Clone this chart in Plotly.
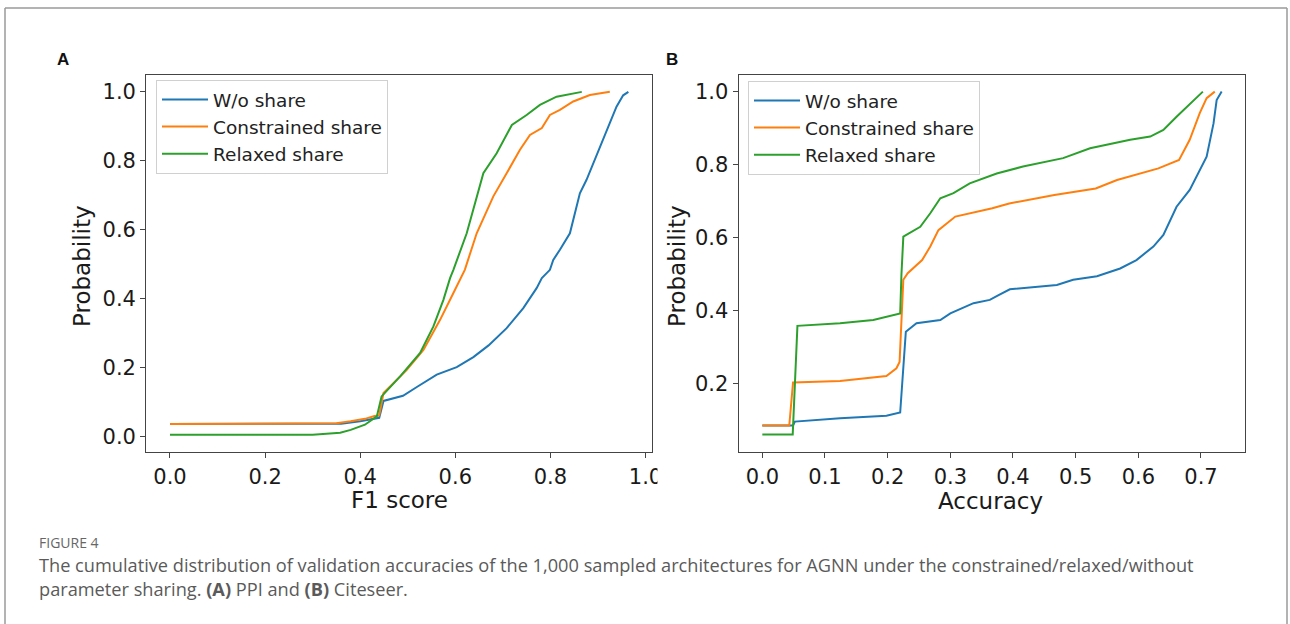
import plotly.graph_objects as go

# ---------------- data ----------------
series_names = ["W/o share", "Constrained share", "Relaxed share"]
series_colors = ["#1f77b4", "#ff7f0e", "#2ca02c"]

# Panel A (PPI) - F1 score CDF
a_wo_x = [0.0, 0.30, 0.36, 0.40, 0.43, 0.44, 0.449, 0.47, 0.49, 0.52, 0.561, 0.603, 0.638, 0.67,
          0.708, 0.743, 0.771, 0.782, 0.799, 0.806, 0.82, 0.841, 0.852, 0.862, 0.876, 0.89, 0.911,
          0.925, 0.939, 0.953, 0.964]
a_wo_y = [0.037, 0.037, 0.038, 0.045, 0.052, 0.055, 0.104, 0.112, 0.119, 0.145, 0.18, 0.202, 0.231, 0.265,
          0.315, 0.373, 0.431, 0.46, 0.484, 0.513, 0.542, 0.59, 0.648, 0.706, 0.745, 0.793, 0.861,
          0.909, 0.957, 0.99, 1.0]

a_con_x = [0.0, 0.30, 0.35, 0.38, 0.41, 0.43, 0.44, 0.449, 0.47, 0.498, 0.533, 0.568, 0.596, 0.61, 0.62,
           0.645, 0.68, 0.708, 0.736, 0.757, 0.782, 0.799, 0.82, 0.848, 0.883, 0.925]
a_con_y = [0.037, 0.037, 0.039, 0.045, 0.052, 0.06, 0.062, 0.127, 0.155, 0.194, 0.252, 0.339, 0.417, 0.455, 0.484,
           0.59, 0.697, 0.764, 0.832, 0.875, 0.895, 0.933, 0.948, 0.972, 0.991, 1.0]

a_rel_x = [0.0, 0.30, 0.358, 0.38, 0.41, 0.435, 0.445, 0.46, 0.484, 0.526, 0.554, 0.575, 0.589, 0.596,
           0.624, 0.659, 0.687, 0.719, 0.75, 0.778, 0.813, 0.866]
a_rel_y = [0.006, 0.006, 0.012, 0.02, 0.035, 0.059, 0.117, 0.14, 0.175, 0.243, 0.32, 0.397, 0.46, 0.484,
           0.59, 0.764, 0.822, 0.904, 0.933, 0.962, 0.986, 1.0]

# Panel B (Citeseer) - Accuracy CDF
b_wo_x = [0.0, 0.049, 0.052, 0.124, 0.198, 0.22, 0.229, 0.246, 0.284, 0.3, 0.337, 0.363, 0.377, 0.395,
          0.47, 0.496, 0.534, 0.571, 0.597, 0.624, 0.64, 0.656, 0.661, 0.682, 0.709, 0.72, 0.725, 0.733]
b_wo_y = [0.086, 0.086, 0.097, 0.106, 0.113, 0.122, 0.343, 0.366, 0.375, 0.393, 0.421, 0.43, 0.443, 0.459,
          0.471, 0.485, 0.495, 0.516, 0.539, 0.576, 0.608, 0.67, 0.685, 0.731, 0.822, 0.913, 0.977, 1.0]

b_con_x = [0.0, 0.043, 0.049, 0.124, 0.198, 0.214, 0.219, 0.222, 0.225, 0.232, 0.255, 0.268, 0.281, 0.308,
           0.367, 0.394, 0.466, 0.532, 0.566, 0.632, 0.665, 0.682, 0.698, 0.709, 0.722]
b_con_y = [0.086, 0.086, 0.204, 0.208, 0.222, 0.243, 0.26, 0.39, 0.485, 0.503, 0.539, 0.576, 0.621, 0.658,
           0.681, 0.694, 0.717, 0.735, 0.758, 0.79, 0.813, 0.868, 0.941, 0.982, 1.0]

b_rel_x = [0.0, 0.0485, 0.056, 0.124, 0.177, 0.22, 0.222, 0.225, 0.252, 0.268, 0.284, 0.305, 0.331, 0.374,
           0.416, 0.48, 0.523, 0.587, 0.619, 0.64, 0.661, 0.688, 0.703]
b_rel_y = [0.062, 0.062, 0.359, 0.366, 0.375, 0.393, 0.50, 0.603, 0.63, 0.667, 0.708, 0.722, 0.749, 0.776,
           0.795, 0.818, 0.845, 0.868, 0.877, 0.895, 0.931, 0.977, 1.0]

a_xticks = [0.0, 0.2, 0.4, 0.6, 0.8, 1.0]
a_yticks = [0.0, 0.2, 0.4, 0.6, 0.8, 1.0]
b_xticks = [0.0, 0.1, 0.2, 0.3, 0.4, 0.5, 0.6, 0.7]
b_yticks = [0.2, 0.4, 0.6, 0.8, 1.0]

caption_head = "FIGURE 4"
caption_line1 = ("The cumulative distribution of validation accuracies of the 1,000 sampled architectures "
                 "for AGNN under the constrained/relaxed/without")
caption_line2 = "parameter sharing. <b>(A)</b> PPI and <b>(B)</b> Citeseer."

# ---------------- figure ----------------
W, H = 1290, 624
def px(x):
    return x / W
def py(y):
    return 1 - y / H

fig = go.Figure()

panel_a = [(a_wo_x, a_wo_y), (a_con_x, a_con_y), (a_rel_x, a_rel_y)]
panel_b = [(b_wo_x, b_wo_y), (b_con_x, b_con_y), (b_rel_x, b_rel_y)]

for i, (xs, ys) in enumerate(panel_a):
    fig.add_trace(go.Scatter(x=xs, y=ys, mode="lines", name=series_names[i],
                             line=dict(color=series_colors[i], width=2),
                             xaxis="x", yaxis="y", legend="legend", legendgroup=f"a{i}"))
for i, (xs, ys) in enumerate(panel_b):
    fig.add_trace(go.Scatter(x=xs, y=ys, mode="lines", name=series_names[i],
                             line=dict(color=series_colors[i], width=2),
                             xaxis="x2", yaxis="y2", legend="legend2", legendgroup=f"b{i}"))

tick_font = dict(family="DejaVu Sans", size=21, color="#1a1a1a")
axis_common = dict(showline=True, linecolor="#444", linewidth=1.3, mirror=True,
                   ticks="outside", ticklen=5, tickwidth=1.3, tickcolor="#444", automargin=False,
                   showgrid=False, zeroline=False, tickfont=tick_font, tickformat=".1f")

legend_common = dict(font=dict(family="DejaVu Sans", size=18.5, color="#222"),
                     bgcolor="rgba(255,255,255,0.85)", bordercolor="#d0d0d0", borderwidth=1,
                     xanchor="left", yanchor="top", itemwidth=46, tracegroupgap=6,
                     traceorder="normal")

fig.update_layout(
    width=W, height=H, margin=dict(l=0, r=0, t=0, b=0, pad=0, autoexpand=False),
    paper_bgcolor="white", plot_bgcolor="white",
    xaxis=dict(domain=[px(146.3), px(652.4)], range=[-0.0498, 1.0145], tickvals=a_xticks,
               anchor="y", **axis_common),
    yaxis=dict(domain=[py(452.3), py(75.3)], range=[-0.045, 1.048], tickvals=a_yticks,
               anchor="x", **axis_common),
    xaxis2=dict(domain=[px(738.7), px(1245.3)], range=[-0.0377, 0.7707], tickvals=b_xticks,
                anchor="y2", **axis_common),
    yaxis2=dict(domain=[py(452.3), py(75.3)], range=[0.013, 1.0446], tickvals=b_yticks,
                anchor="x2", **axis_common),
    legend=dict(x=px(156), y=py(80), **legend_common),
    legend2=dict(x=px(748), y=py(81), **legend_common),
    showlegend=True,
)

# outer frame (top, left, right edges; bottom runs off the page)
frame_line = dict(color="#9a9a9a", width=1.5)
fig.add_shape(type="line", xref="paper", yref="paper", x0=px(5), x1=px(1287), y0=py(8), y1=py(8),
              line=frame_line, layer="above")
fig.add_shape(type="line", xref="paper", yref="paper", x0=px(5), x1=px(5), y0=py(8), y1=0,
              line=frame_line, layer="above")
fig.add_shape(type="line", xref="paper", yref="paper", x0=px(1287), x1=px(1287), y0=py(8), y1=0,
              line=frame_line, layer="above")
# the right panel's picture clips the last tick label of the left panel
fig.add_shape(type="rect", xref="paper", yref="paper", x0=px(657.5), x1=px(700), y0=py(490), y1=py(458),
              line=dict(width=0), fillcolor="white", layer="above")

annots = [
    dict(text="<b>A</b>", x=px(63), y=py(59), font=dict(family="Liberation Sans", size=17, color="#111")),
    dict(text="<b>B</b>", x=px(672), y=py(59), font=dict(family="Liberation Sans", size=17, color="#111")),
    dict(text="F1 score", x=px(399), y=py(500), font=dict(family="DejaVu Sans", size=23, color="#1a1a1a")),
    dict(text="Accuracy", x=px(990), y=py(501), font=dict(family="DejaVu Sans", size=23, color="#1a1a1a")),
    dict(text="Probability", x=px(82), y=py(266), textangle=-90,
         font=dict(family="DejaVu Sans", size=23, color="#1a1a1a")),
    dict(text="Probability", x=px(677), y=py(266), textangle=-90,
         font=dict(family="DejaVu Sans", size=23, color="#1a1a1a")),
]
for a in annots:
    fig.add_annotation(xref="paper", yref="paper", showarrow=False, xanchor="center", yanchor="middle", **a)

cap_font = dict(family="Open Sans", size=18.2, color="#5a5a5a")
fig.add_annotation(xref="paper", yref="paper", showarrow=False, xanchor="left", yanchor="middle",
                   x=px(37), y=py(542), text=caption_head,
                   font=dict(family="Open Sans", size=14, color="#666666"))
fig.add_annotation(xref="paper", yref="paper", showarrow=False, xanchor="left", yanchor="middle",
                   x=px(37), y=py(565), text=caption_line1, font=cap_font)
fig.add_annotation(xref="paper", yref="paper", showarrow=False, xanchor="left", yanchor="middle",
                   x=px(37), y=py(589), text=caption_line2, font=cap_font)

# let the page be exactly the figure (no default body margin / scroll overflow)
page_fix = """
document.body.style.margin = '0';
document.body.style.overflow = 'hidden';
"""
fig.write_html("out.html", post_script=page_fix)
